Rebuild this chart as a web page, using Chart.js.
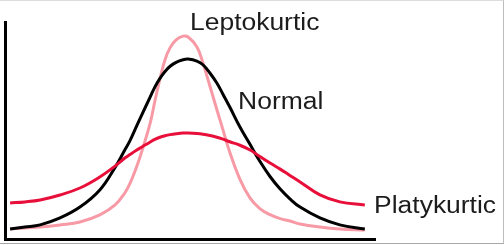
<!DOCTYPE html>
<html>
<head>
<meta charset="utf-8">
<script src="https://cdn.jsdelivr.net/npm/chart.js@4/dist/chart.umd.min.js"></script>
<style>
  html, body { margin: 0; padding: 0; background: #fff; }
  #wrap { position: relative; width: 504px; height: 245px; overflow: hidden; }
  #kurt { position: absolute; left: 0; top: 0; }
  #frame {
    position: absolute; left: 0; top: 0; width: 504px; height: 244px;
    border-top: 1px solid #dcdcdc; border-right: 1px solid #bdbdbd; border-bottom: 1px solid #a8a8a8;
    box-sizing: border-box; pointer-events: none;
  }
</style>
</head>
<body>
<div id="wrap">
  <canvas id="kurt" width="504" height="245"></canvas>
  <div id="frame"></div>
</div>
<script>
// x in standard deviations, y as relative height
const xValues = [-3.89, -3.57, -3.24, -2.81, -2.38, -1.95, -1.62, -1.41, -1.30, -1.15, -1.04,
  -0.86, -0.76, -0.65, -0.54, -0.43, -0.30, -0.15, -0.04, 0.15, 0.28, 0.43, 0.58, 0.71,
  0.86, 1.08, 1.30, 1.51, 1.73, 1.95, 2.16, 2.38, 2.81, 3.24, 3.78];

const normal = [0.046, 0.055, 0.065, 0.097, 0.147, 0.226, 0.330, 0.410, 0.452, 0.522, 0.573,
  0.655, 0.700, 0.740, 0.772, 0.796, 0.814, 0.826, 0.829, 0.820, 0.803, 0.765, 0.719, 0.668,
  0.608, 0.516, 0.435, 0.358, 0.288, 0.230, 0.185, 0.147, 0.097, 0.065, 0.046];

const leptokurtic = [0.046, 0.051, 0.055, 0.065, 0.078, 0.111, 0.157, 0.212, 0.255, 0.335, 0.405,
  0.535, 0.635, 0.738, 0.826, 0.882, 0.918, 0.935, 0.931, 0.885, 0.811, 0.705, 0.597, 0.505,
  0.400, 0.275, 0.188, 0.140, 0.112, 0.094, 0.083, 0.069, 0.055, 0.046, 0.041];

const platykurtic = [0.166, 0.171, 0.180, 0.203, 0.235, 0.286, 0.336, 0.373, 0.389, 0.410, 0.424,
  0.447, 0.459, 0.469, 0.476, 0.481, 0.485, 0.488, 0.488, 0.486, 0.483, 0.477, 0.469, 0.460,
  0.448, 0.432, 0.410, 0.380, 0.350, 0.322, 0.293, 0.263, 0.203, 0.171, 0.157];

// curve labels: text + anchor (data units, left edge / baseline)
const curveLabels = [
  { text: 'Leptokurtic', x: 0.0, y: 0.961 },
  { text: 'Normal', x: 1.04, y: 0.599 },
  { text: 'Platykurtic', x: 3.98, y: 0.12 }
];

const toPoints = ys => ys.map((y, i) => ({ x: xValues[i], y }));

const labelPlugin = {
  id: 'curveLabels',
  afterDraw(chart) {
    const { ctx, scales: { x, y } } = chart;
    ctx.save();
    ctx.fillStyle = '#1c1c1c';
    ctx.font = '23px "Liberation Sans", Arial, sans-serif';
    ctx.textBaseline = 'alphabetic';
    ctx.textAlign = 'left';
    curveLabels.forEach(l => {
      const px = x.getPixelForValue(l.x), py = y.getPixelForValue(l.y);
      ctx.save();
      ctx.translate(px, py);
      ctx.scale(1.15, 1);
      ctx.fillText(l.text, 0, 0);
      ctx.restore();
    });
    ctx.restore();
  }
};

const line = (data, color, order) => ({
  data: toPoints(data),
  borderColor: color,
  borderWidth: 3,
  pointRadius: 0,
  fill: false,
  tension: 0.4,
  order
});

new Chart(document.getElementById('kurt'), {
  type: 'line',
  data: {
    datasets: [
      line(platykurtic, '#e8103a', 0),
      line(normal, '#000000', 1),
      line(leptokurtic, '#f79aa6', 2)
    ]
  },
  options: {
    responsive: false,
    animation: false,
    devicePixelRatio: 1,
    layout: { padding: { left: 5, top: 22, right: 129, bottom: 6 } },
    plugins: { legend: { display: false }, tooltip: { enabled: false } },
    scales: {
      x: {
        type: 'linear', min: -4, max: 4,
        ticks: { display: false },
        grid: { display: false, drawTicks: false },
        border: { display: true, color: '#000', width: 3 }
      },
      y: {
        min: 0, max: 1,
        ticks: { display: false },
        grid: { display: false, drawTicks: false },
        border: { display: true, color: '#000', width: 3 }
      }
    }
  },
  plugins: [labelPlugin]
});
</script>
</body>
</html>
